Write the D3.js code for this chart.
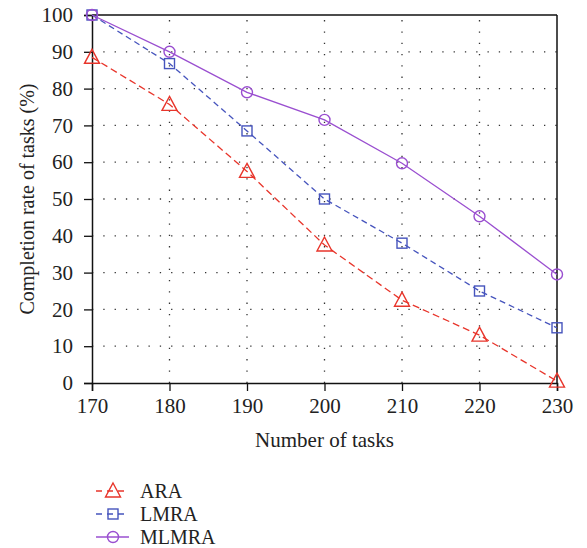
<!DOCTYPE html>
<html>
<head>
<meta charset="utf-8">
<script src="https://cdn.jsdelivr.net/npm/d3@7"></script>
<style>
  html, body { margin: 0; padding: 0; background: #fff; overflow: hidden; }
  svg { display: block; }
  svg text { font-family: "Liberation Serif", "DejaVu Serif", serif; fill: #222; }
</style>
</head>
<body>
<div id="chart"></div>
<script>
const tasks = [170, 180, 190, 200, 210, 220, 230];
const araValues = [88.5, 75.7, 57.5, 37.5, 22.5, 13, 0.5];
const lmraValues = [100, 86.8, 68.5, 50, 38, 25, 15];
const mlmraValues = [100, 90, 79, 71.5, 59.7, 45.3, 29.5];
const yTicks = [0, 10, 20, 30, 40, 50, 60, 70, 80, 90, 100];

const series = [
    { name: "ARA", values: araValues, color: "#e8352b", dash: "7,4", marker: "triangle" },
    { name: "LMRA", values: lmraValues, color: "#4654bd", dash: "6,4", marker: "square" },
    { name: "MLMRA", values: mlmraValues, color: "#9a4fd0", dash: null, marker: "circle" }
];

const width = 587;
const height = 548;
const margin = { top: 15, right: 30, bottom: 165, left: 92 };
const innerWidth = width - margin.left - margin.right;
const innerHeight = height - margin.top - margin.bottom;
const fontFamily = "'Liberation Serif', 'DejaVu Serif', serif";

const svg = d3.select("#chart")
    .append("svg")
    .attr("width", width)
    .attr("height", height);

const g = svg.append("g")
    .attr("transform", `translate(${margin.left}, ${margin.top})`);

const xScale = d3.scaleLinear()
    .domain([170, 230])
    .range([0, innerWidth]);

const yScale = d3.scaleLinear()
    .domain([0, 100])
    .range([innerHeight, 0]);

// dotted grid
g.append("g")
    .selectAll("line")
    .data(yTicks.slice(1, -1))
    .enter()
    .append("line")
    .attr("x1", 0)
    .attr("x2", innerWidth)
    .attr("y1", d => yScale(d))
    .attr("y2", d => yScale(d))
    .attr("stroke", "#333")
    .attr("stroke-width", 1.3)
    .attr("stroke-dasharray", "1.3,10");

g.append("g")
    .selectAll("line")
    .data(tasks.slice(1, -1))
    .enter()
    .append("line")
    .attr("x1", d => xScale(d))
    .attr("x2", d => xScale(d))
    .attr("y1", innerHeight)
    .attr("y2", 0)
    .attr("stroke", "#333")
    .attr("stroke-width", 1.3)
    .attr("stroke-dasharray", "1.3,10");

// axes
const xAxis = d3.axisBottom(xScale).tickValues(tasks).tickSize(8).tickPadding(7).tickFormat(d3.format("d"));
const yAxis = d3.axisLeft(yScale).tickValues(yTicks).tickSize(8).tickPadding(11);

g.append("g")
    .attr("transform", `translate(0, ${innerHeight})`)
    .call(xAxis)
    .attr("font-family", fontFamily)
    .call(a => a.select(".domain").attr("stroke", "#111").attr("stroke-width", 1.5))
    .call(a => a.selectAll(".tick line").attr("stroke", "#111").attr("stroke-width", 1.3))
    .call(a => a.selectAll("text").style("font-size", "21px").attr("fill", "#222"));

g.append("g")
    .call(yAxis)
    .attr("font-family", fontFamily)
    .call(a => a.select(".domain").attr("stroke", "#111").attr("stroke-width", 1.5))
    .call(a => a.selectAll(".tick line").attr("stroke", "#111").attr("stroke-width", 1.3))
    .call(a => a.selectAll("text").style("font-size", "21px").attr("fill", "#222"));

// top and right border
g.append("line")
    .attr("x1", 0).attr("x2", innerWidth).attr("y1", 0).attr("y2", 0)
    .attr("stroke", "#111").attr("stroke-width", 1.5);
g.append("line")
    .attr("x1", innerWidth).attr("x2", innerWidth).attr("y1", 0).attr("y2", innerHeight)
    .attr("stroke", "#111").attr("stroke-width", 1.5);

// lines
const line = d3.line()
    .x((d, i) => xScale(tasks[i]))
    .y(d => yScale(d));

function drawMarker(sel, type, color) {
    if (type === "triangle") {
        sel.append("path")
            .attr("d", "M0,-8 L7.5,6 L-7.5,6 Z")
            .attr("fill", "none").attr("stroke", color).attr("stroke-width", 1.4);
    } else if (type === "square") {
        sel.append("rect")
            .attr("x", -5).attr("y", -5).attr("width", 10).attr("height", 10)
            .attr("fill", "none").attr("stroke", color).attr("stroke-width", 1.4);
    } else {
        sel.append("circle")
            .attr("r", 5.5)
            .attr("fill", "none").attr("stroke", color).attr("stroke-width", 1.4);
    }
}

series.forEach(s => {
    g.append("path")
        .datum(s.values)
        .attr("fill", "none")
        .attr("stroke", s.color)
        .attr("stroke-width", 1.3)
        .attr("stroke-dasharray", s.dash)
        .attr("d", line);

    g.selectAll(null)
        .data(s.values)
        .enter()
        .append("g")
        .attr("transform", (d, i) => `translate(${xScale(tasks[i])}, ${yScale(d)})`)
        .each(function () { drawMarker(d3.select(this), s.marker, s.color); });
});

// axis labels
g.append("text")
    .attr("x", innerWidth / 2)
    .attr("y", innerHeight + 64)
    .attr("text-anchor", "middle")
    .style("font-size", "21px")
    .text("Number of tasks");

g.append("text")
    .attr("transform", "rotate(-90)")
    .attr("x", -innerHeight / 2)
    .attr("y", -margin.left + 34)
    .attr("text-anchor", "middle")
    .style("font-size", "20px")
    .text("Completion rate of tasks (%)");

// legend
const legend = svg.append("g")
    .attr("transform", "translate(96, 491)");

series.forEach((s, i) => {
    const row = legend.append("g").attr("transform", `translate(0, ${i * 23})`);
    row.append("line")
        .attr("x1", 0).attr("x2", 33).attr("y1", 0).attr("y2", 0)
        .attr("stroke", s.color).attr("stroke-width", 1.3)
        .attr("stroke-dasharray", s.dash ? "6,5" : null);
    const m = row.append("g").attr("transform", "translate(17, 0)");
    drawMarker(m, s.marker, s.color);
    row.append("text")
        .attr("x", 44)
        .attr("y", 7)
        .style("font-size", "20px")
        .text(s.name);
});
</script>
</body>
</html>
